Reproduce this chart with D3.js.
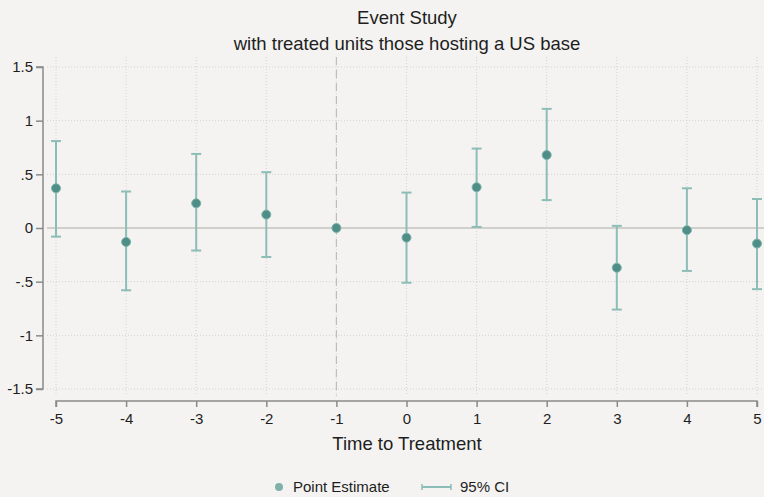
<!DOCTYPE html>
<html><head><meta charset="utf-8">
<script src="https://cdn.jsdelivr.net/npm/d3@7"></script>
<style>body{margin:0;background:#f4f3f1;}svg{display:block;font-family:"Liberation Sans",Arial,sans-serif;}</style>
</head><body><svg id="c" width="764" height="497"></svg>
<script>
const times = [-5,-4,-3,-2,-1,0,1,2,3,4,5];
const timeLabels = ["-5","-4","-3","-2","-1","0","1","2","3","4","5"];
const estimates = [0.37,-0.13,0.23,0.125,0,-0.09,0.38,0.68,-0.37,-0.02,-0.145];
const ciLow = [-0.08,-0.58,-0.21,-0.27,null,-0.51,0.01,0.26,-0.76,-0.40,-0.57];
const ciHigh = [0.81,0.34,0.69,0.52,null,0.33,0.74,1.11,0.02,0.37,0.27];
const yTicks = [-1.5,-1,-0.5,0,0.5,1,1.5];
const yTickLabels = ["-1.5","-1","-.5","0",".5","1","1.5"];

const svg = d3.select("#c");
svg.append("rect").attr("width",764).attr("height",497).attr("fill","#f4f3f1");
const x = d3.scaleLinear().domain([-5,5]).range([56,757]);
const y = d3.scaleLinear().domain([-1.5,1.5]).range([389,67]);
const plotTop = 57, plotBot = 396, plotLeft = 47, plotRight = 764;
const grid = "#d3d3d0";
const txt = "#1e1e1e";
// grid
svg.append("g").selectAll("line").data(times).join("line")
  .attr("x1",d=>x(d)).attr("x2",d=>x(d)).attr("y1",plotTop).attr("y2",plotBot)
  .attr("stroke",grid).attr("stroke-width",1).attr("stroke-dasharray","1,2");
svg.append("g").selectAll("line").data(yTicks.filter(d=>d!==0)).join("line")
  .attr("x1",plotLeft).attr("x2",plotRight).attr("y1",d=>y(d)).attr("y2",d=>y(d))
  .attr("stroke",grid).attr("stroke-width",1).attr("stroke-dasharray","1,2");
// zero line
svg.append("line").attr("x1",plotLeft).attr("x2",plotRight).attr("y1",y(0)).attr("y2",y(0))
  .attr("stroke","#cfcfcc").attr("stroke-width",2);
// vertical dashed at -1
svg.append("line").attr("x1",x(-1)).attr("x2",x(-1)).attr("y1",plotTop).attr("y2",plotBot)
  .attr("stroke","#bdbdba").attr("stroke-width",1.2).attr("stroke-dasharray","8,5");
// axes
const yAxis = d3.axisLeft(y).tickValues(yTicks).tickFormat((d,i)=>yTickLabels[i]).tickSize(7).tickPadding(3);
const gy = svg.append("g").attr("transform","translate(43,0)").call(yAxis);
gy.select(".domain").attr("stroke","#8a8a8a").attr("stroke-width",1.5).attr("d","M-7,67H0V389H-7");
gy.selectAll(".tick line").attr("stroke","#8a8a8a").attr("stroke-width",1.5);
gy.selectAll(".tick text").attr("font-size",15).attr("fill",txt).style("font-family","Liberation Sans, Arial, sans-serif");
const xAxis = d3.axisBottom(x).tickValues(times).tickFormat((d,i)=>timeLabels[i]).tickSize(6).tickPadding(6);
const gx = svg.append("g").attr("transform","translate(0,401)").call(xAxis);
gx.select(".domain").attr("stroke","#8a8a8a").attr("stroke-width",1.5).attr("d","M56,6V0H757V6");
gx.selectAll(".tick line").attr("stroke","#8a8a8a").attr("stroke-width",1.5);
gx.selectAll(".tick text").attr("font-size",15).attr("fill",txt).style("font-family","Liberation Sans, Arial, sans-serif");
// CIs
const ciColor = "#8dbdb7", capW = 5;
const ci = times.map((t,i)=>({t,lo:ciLow[i],hi:ciHigh[i],e:estimates[i]}));
const g = svg.append("g");
ci.filter(d=>d.lo!==null).forEach(d=>{
  g.append("line").attr("x1",x(d.t)).attr("x2",x(d.t)).attr("y1",y(d.lo)).attr("y2",y(d.hi)).attr("stroke",ciColor).attr("stroke-width",2);
  [d.lo,d.hi].forEach(v=>g.append("line").attr("x1",x(d.t)-capW).attr("x2",x(d.t)+capW).attr("y1",y(v)).attr("y2",y(v)).attr("stroke",ciColor).attr("stroke-width",2));
});
g.selectAll("circle").data(ci).join("circle").attr("cx",d=>x(d.t)).attr("cy",d=>y(d.e)).attr("r",4.5)
  .attr("fill","#4e8e87").attr("stroke","#7db3ad").attr("stroke-width",1);
// titles
svg.append("text").attr("x",407).attr("y",24).attr("text-anchor","middle").attr("font-size",18.5).attr("fill",txt).text("Event Study");
svg.append("text").attr("x",407).attr("y",50).attr("text-anchor","middle").attr("font-size",18.5).attr("fill",txt).text("with treated units those hosting a US base");
svg.append("text").attr("x",407).attr("y",450).attr("text-anchor","middle").attr("font-size",18.5).attr("fill",txt).text("Time to Treatment");
// legend
svg.append("circle").attr("cx",279).attr("cy",487).attr("r",4).attr("fill","#7fb0aa");
svg.append("text").attr("x",293).attr("y",492).attr("font-size",15).attr("fill",txt).text("Point Estimate");
svg.append("line").attr("x1",422).attr("x2",451).attr("y1",487).attr("y2",487).attr("stroke",ciColor).attr("stroke-width",2);
[422,451].forEach(v=>svg.append("line").attr("x1",v).attr("x2",v).attr("y1",484).attr("y2",490).attr("stroke",ciColor).attr("stroke-width",1.5));
svg.append("text").attr("x",460).attr("y",492).attr("font-size",15).attr("fill",txt).text("95% CI");
</script></body></html>
